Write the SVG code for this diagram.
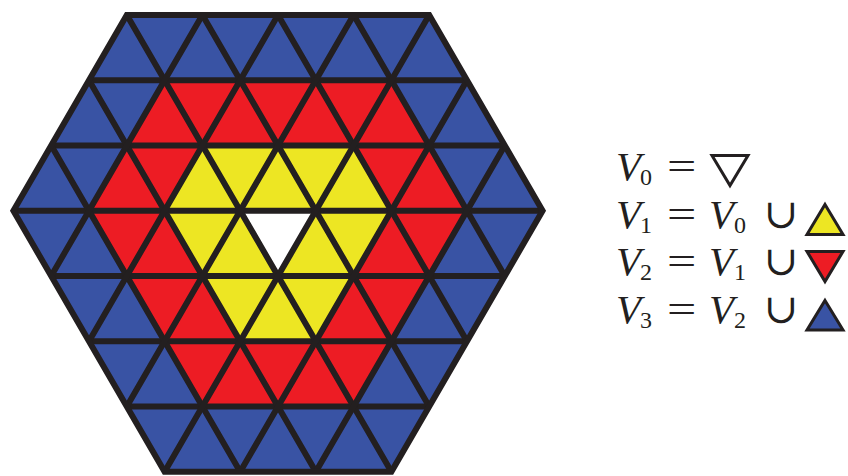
<svg xmlns="http://www.w3.org/2000/svg" width="848" height="476" viewBox="0 0 848 476">
<style>
.ln{stroke:#231f20;stroke-width:6;fill:none;stroke-linejoin:miter}
.blue{fill:#3953a4}
.red{fill:#ed1c24}
.yel{fill:#ede623}
.wht{fill:#ffffff}
.sw{stroke:#231f20;stroke-width:3;stroke-linejoin:miter}
.v{font-family:"Liberation Serif",serif;font-style:italic;font-size:41px;fill:#231f20}
.s{font-family:"Liberation Serif",serif;font-size:24px;fill:#231f20}
.e{font-family:"Liberation Serif",serif;font-size:40px;fill:#231f20}
.o{font-family:"DejaVu Serif",serif;font-size:41px;fill:#231f20}
</style>
<defs>
<clipPath id="hexclip">
<polygon points="126.8,15 429.2,15 542.6,210.75 391.4,471.75 164.6,471.75 13.4,210.75"/>
</clipPath>
</defs>
<g id="regions">
<polygon id="V3" class="blue" points="126.8,15 429.2,15 542.6,210.75 391.4,471.75 164.6,471.75 13.4,210.75"/>
<polygon id="V2" class="red" points="164.6,80.25 391.4,80.25 467,210.75 353.6,406.5 202.4,406.5 89,210.75"/>
<polygon id="V1" class="yel" points="202.4,145.5 353.6,145.5 391.4,210.75 315.8,341.25 240.2,341.25 164.6,210.75"/>
<polygon id="V0" class="wht" points="240.2,210.75 315.8,210.75 278,276"/>
</g>
<g id="grid" class="ln" clip-path="url(#hexclip)">
<path d="M0,80.25H848M0,145.5H848M0,210.75H848M0,276H848M0,341.25H848M0,406.5H848"/>
<path d="M-24.4,15L240.2,471.75M51.2,15L315.8,471.75M126.8,15L391.4,471.75M202.4,15L467,471.75M278,15L542.6,471.75M353.6,15L618.2,471.75"/>
<path d="M202.4,15L-62.2,471.75M278,15L13.4,471.75M353.6,15L89,471.75M429.2,15L164.6,471.75M504.8,15L240.2,471.75M580.4,15L315.8,471.75"/>
</g>
<polygon id="border" class="ln" points="126.8,15 429.2,15 542.6,210.75 391.4,471.75 164.6,471.75 13.4,210.75"/>
<g id="legend">
<g id="row0">
<text class="v" x="616" y="180">V</text><text class="s" x="640" y="185">0</text>
<text class="e" transform="translate(667,180) scale(1.3,1)">=</text>
<polygon class="wht sw" points="712,155.5 748,155.5 730,185.5"/>
</g>
<g id="row1">
<text class="v" x="616" y="228">V</text><text class="s" x="640" y="233">1</text>
<text class="e" transform="translate(667,228) scale(1.3,1)">=</text>
<text class="v" x="709" y="228">V</text><text class="s" x="734" y="233">0</text>
<text class="o" x="764" y="228">∪</text>
<polygon class="yel sw" points="825,204.5 843,234.5 807,234.5"/>
</g>
<g id="row2">
<text class="v" x="616" y="275">V</text><text class="s" x="640" y="280">2</text>
<text class="e" transform="translate(667,275) scale(1.3,1)">=</text>
<text class="v" x="709" y="275">V</text><text class="s" x="734" y="280">1</text>
<text class="o" x="764" y="275">∪</text>
<polygon class="red sw" points="807,251.5 843,251.5 825,281.5"/>
</g>
<g id="row3">
<text class="v" x="616" y="323">V</text><text class="s" x="640" y="328">3</text>
<text class="e" transform="translate(667,323) scale(1.3,1)">=</text>
<text class="v" x="709" y="323">V</text><text class="s" x="734" y="328">2</text>
<text class="o" x="764" y="323">∪</text>
<polygon class="blue sw" points="825,300.5 843,330 807,330"/>
</g>
</g>
</svg>
